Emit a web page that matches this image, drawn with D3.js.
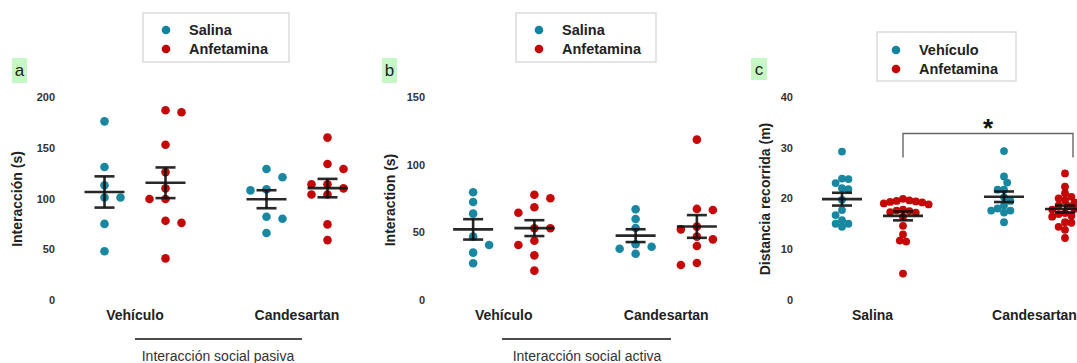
<!DOCTYPE html>
<html>
<head>
<meta charset="utf-8">
<script src="https://cdn.jsdelivr.net/npm/d3@7"></script>
<style>
  html, body { margin: 0; padding: 0; background: #fff; overflow: hidden; }
  svg { display: block; }
</style>
</head>
<body>
<svg id="chart" width="1077" height="363"></svg>
<script>
// ---- Panel a: interacción social pasiva (s) ----
const passiveCategories = ["Vehículo", "Candesartan"];
const passiveSeries = ["Salina", "Anfetamina"];
const passiveSalinaVehiculo = [176, 131, 113, 101, 101, 75, 48];
const passiveAnfetaminaVehiculo = [187, 185, 153, 126, 110, 99.5, 99.5, 78, 76, 41];
const passiveSalinaCandesartan = [129, 121, 109, 108, 82, 80, 66];
const passiveAnfetaminaCandesartan = [160, 134, 129, 114, 114, 110, 104, 104, 74.5, 59];
const passiveTicks = [0, 50, 100, 150, 200];

// ---- Panel b: interacción social activa (s) ----
const activeCategories = ["Vehículo", "Candesartan"];
const activeSeries = ["Salina", "Anfetamina"];
const activeSalinaVehiculo = [79.6, 72.4, 63.8, 46.8, 40.6, 35, 27.1];
const activeAnfetaminaVehiculo = [77.8, 75.2, 68.5, 64.5, 53, 53, 43.8, 40.6, 33, 21.7];
const activeSalinaCandesartan = [67, 59.9, 53.2, 41.2, 39.4, 37.9, 34.2];
const activeAnfetaminaCandesartan = [118.5, 67.3, 66.5, 54.2, 52.2, 46.8, 44.8, 39.9, 27.3, 25.9];
const activeTicks = [0, 50, 100, 150];

// ---- Panel c: distancia recorrida (m) ----
const distanceCategories = ["Salina", "Candesartan"];
const distanceSeries = ["Vehículo", "Anfetamina"];
const distanceVehiculoSalina = [29.2, 23.9, 23.8, 23.0, 22.0, 21.8, 19.7, 17.7, 16.7, 15.7, 15.0, 15.0, 14.4];
const distanceAnfetaminaSalina = [19.9, 19.6, 19.5, 19.4, 19.3, 19.2, 19.0, 18.8, 17.8, 17.6, 17.5, 17.3, 17.2, 16.4, 14.6, 12.9, 11.7, 11.5, 5.2];
const distanceVehiculoCandesartan = [29.3, 24.3, 23.1, 21.7, 21.7, 20.2, 19.5, 18.6, 18.0, 17.6, 17.6, 17.2, 15.3];
const distanceAnfetaminaCandesartan = [24.9, 22.3, 21.0, 20.3, 20.0, 19.6, 19.2, 18.6, 18.5, 17.9, 17.8, 17.1, 16.9, 16.6, 16.4, 15.3, 15.2, 14.4, 13.8, 12.2];
const distanceTicks = [0, 10, 20, 30, 40];

const FONT = "'Liberation Sans', Arial, Helvetica, sans-serif";
const TEAL = "#12839d";
const RED = "#c20000";
const svg = d3.select("#chart");

// mean and standard error of the mean
function meanSem(v) {
  return { mean: d3.mean(v), sem: d3.deviation(v) / Math.sqrt(v.length) };
}

// simple deterministic beeswarm: returns horizontal offsets (px) for each value
function swarm(values, y, step, minDist) {
  const order = d3.range(values.length).sort((i, j) => values[j] - values[i]);
  const placed = [];
  const out = new Array(values.length);
  let left = 0, right = 0;
  for (const i of order) {
    const py = y(values[i]);
    for (let k = 0; k < 50; k++) {
      const cands = k === 0 ? [0] : (right <= left ? [k * step, -k * step] : [-k * step, k * step]);
      const ok = cands.find(dx => placed.every(p => Math.hypot(p.dx - dx, p.y - py) >= minDist));
      if (ok !== undefined) {
        placed.push({ dx: ok, y: py });
        if (ok > 0) right++; else if (ok < 0) left++;
        out[i] = ok;
        break;
      }
    }
  }
  return out;
}

function drawPanel(cfg) {
  const g = svg.append("g");
  const y = d3.scaleLinear().domain(cfg.domain).range(cfg.yRange);
  const x0 = d3.scaleBand().domain(cfg.categories).range(cfg.xRange);
  const x1 = d3.scaleBand().domain(cfg.series).range([20, x0.bandwidth() - 20]);
  const colour = d3.scaleOrdinal().domain(cfg.series).range([TEAL, RED]);
  const cx = (c, s) => x0(c) + x1(s) + x1.bandwidth() / 2;

  // y axis: labels only
  const axis = g.append("g")
    .attr("transform", `translate(${cfg.tickX},0)`)
    .call(d3.axisLeft(y).tickValues(cfg.ticks).tickSize(0).tickPadding(0).tickFormat(d3.format("d")));
  axis.select(".domain").remove();
  axis.selectAll("text")
    .attr("font-family", FONT).attr("font-size", 11).attr("font-weight", "bold").attr("fill", "#333");

  // y axis title
  g.append("text")
    .attr("transform", `translate(${cfg.titleX},${cfg.titleY}) rotate(-90)`)
    .attr("text-anchor", "middle").attr("dy", "0.35em")
    .attr("font-family", FONT).attr("font-size", 14).attr("font-weight", "bold").attr("fill", "#222")
    .text(cfg.yTitle);

  // category labels
  g.selectAll(".cat").data(cfg.categories).join("text")
    .attr("x", c => x0(c) + x0.bandwidth() / 2).attr("y", 320)
    .attr("text-anchor", "middle")
    .attr("font-family", FONT).attr("font-size", 14).attr("font-weight", "bold").attr("fill", "#222")
    .text(c => c);

  // points
  cfg.categories.forEach(c => {
    cfg.series.forEach(s => {
      const vals = cfg.values[c][s];
      const off = swarm(vals, y, cfg.step, cfg.minDist);
      g.append("g").selectAll("circle").data(vals).join("circle")
        .attr("cx", (d, i) => cx(c, s) + off[i])
        .attr("cy", d => y(d))
        .attr("r", cfg.r)
        .attr("fill", colour(s))
        .attr("fill-opacity", 0.97);
    });
  });

  // mean ± SEM
  cfg.categories.forEach(c => {
    cfg.series.forEach(s => {
      const { mean, sem } = meanSem(cfg.values[c][s]);
      const x = cx(c, s);
      const eb = g.append("g").attr("stroke", "#111").attr("stroke-width", 2.6).attr("stroke-opacity", 0.9);
      eb.append("line").attr("x1", x - 20).attr("x2", x + 20).attr("y1", y(mean)).attr("y2", y(mean));
      eb.append("line").attr("x1", x).attr("x2", x).attr("y1", y(mean + sem)).attr("y2", y(mean - sem));
      eb.append("line").attr("x1", x - 10).attr("x2", x + 10).attr("y1", y(mean + sem)).attr("y2", y(mean + sem));
      eb.append("line").attr("x1", x - 10).attr("x2", x + 10).attr("y1", y(mean - sem)).attr("y2", y(mean - sem));
    });
  });

  // legend
  const lg = cfg.legend;
  g.append("rect").attr("x", lg.x).attr("y", lg.y).attr("width", lg.w).attr("height", lg.h)
    .attr("fill", "#fff").attr("stroke", "#dcdcdc").attr("stroke-width", 1.5);
  cfg.series.forEach((s, i) => {
    const ry = lg.y + lg.row0 + i * 19;
    g.append("circle").attr("cx", lg.x + lg.dotDx).attr("cy", ry).attr("r", 4.3).attr("fill", colour(s));
    g.append("text").attr("x", lg.x + lg.textDx).attr("y", ry).attr("dy", "0.35em")
      .attr("font-family", FONT).attr("font-size", 14.5).attr("font-weight", "bold").attr("fill", "#222")
      .text(s);
  });

  // panel letter
  const lb = cfg.letterBox;
  g.append("rect").attr("x", lb.x).attr("y", lb.y).attr("width", lb.w).attr("height", lb.h).attr("fill", "#c6f8c6");
  g.append("text").attr("x", lb.x + lb.w / 2).attr("y", lb.y + lb.h / 2).attr("dy", "0.35em")
    .attr("text-anchor", "middle").attr("font-family", FONT).attr("font-size", 17).attr("fill", "#222")
    .text(cfg.letter);

  // grouping line and caption
  if (cfg.caption) {
    const cp = cfg.caption;
    g.append("line").attr("x1", cp.x1).attr("x2", cp.x2).attr("y1", 339).attr("y2", 339)
      .attr("stroke", "#111").attr("stroke-width", 1.6);
    g.append("text").attr("x", cp.cx).attr("y", 361).attr("text-anchor", "middle")
      .attr("font-family", FONT).attr("font-size", 14).attr("fill", "#333")
      .text(cp.text);
  }
  return { y, cx };
}

drawPanel({
  categories: passiveCategories, series: passiveSeries,
  values: {
    "Vehículo": { "Salina": passiveSalinaVehiculo, "Anfetamina": passiveAnfetaminaVehiculo },
    "Candesartan": { "Salina": passiveSalinaCandesartan, "Anfetamina": passiveAnfetaminaCandesartan }
  },
  domain: [0, 200], yRange: [300, 97], ticks: passiveTicks,
  xRange: [54, 378], tickX: 55, titleX: 17, titleY: 199, yTitle: "Interacción (s)",
  step: 16, minDist: 9, r: 4.3,
  legend: { x: 143, y: 13, w: 146, h: 49, dotDx: 23, textDx: 46, row0: 17 },
  letterBox: { x: 12, y: 58, w: 15, h: 25 }, letter: "a",
  caption: { x1: 135, x2: 302, cx: 218, text: "Interacción social pasiva" }
});

drawPanel({
  categories: activeCategories, series: activeSeries,
  values: {
    "Vehículo": { "Salina": activeSalinaVehiculo, "Anfetamina": activeAnfetaminaVehiculo },
    "Candesartan": { "Salina": activeSalinaCandesartan, "Anfetamina": activeAnfetaminaCandesartan }
  },
  domain: [0, 150], yRange: [300, 97], ticks: activeTicks,
  xRange: [422.5, 747.5], tickX: 425, titleX: 390, titleY: 200, yTitle: "Interaction (s)",
  step: 16, minDist: 9, r: 4.3,
  legend: { x: 516, y: 13, w: 140, h: 49, dotDx: 23, textDx: 46, row0: 17 },
  letterBox: { x: 382, y: 58, w: 15, h: 25 }, letter: "b",
  caption: { x1: 502, x2: 671, cx: 587, text: "Interacción social activa" }
});

const pc = drawPanel({
  categories: distanceCategories, series: distanceSeries,
  values: {
    "Salina": { "Vehículo": distanceVehiculoSalina, "Anfetamina": distanceAnfetaminaSalina },
    "Candesartan": { "Vehículo": distanceVehiculoCandesartan, "Anfetamina": distanceAnfetaminaCandesartan }
  },
  domain: [0, 40], yRange: [300, 96.7], ticks: distanceTicks,
  xRange: [791.5, 1115.5], tickX: 793, titleX: 765, titleY: 199, yTitle: "Distancia recorrida (m)",
  step: 3.2, minDist: 6.2, r: 3.9,
  legend: { x: 877, y: 32, w: 139, h: 49, dotDx: 19, textDx: 42, row0: 18 },
  letterBox: { x: 751, y: 58, w: 16, h: 22 }, letter: "c",
  caption: null
});

// significance bracket between Anfetamina groups
const bx1 = pc.cx("Salina", "Anfetamina");
const bx2 = pc.cx("Candesartan", "Anfetamina") + 8;
const bracketTop = 133.5, bracketFoot = 157.5;
svg.append("path")
  .attr("d", `M${bx1},${bracketFoot}V${bracketTop}H${bx2}V${bracketFoot}`)
  .attr("fill", "none").attr("stroke", "#666").attr("stroke-width", 1.4);
svg.append("text").attr("x", (bx1 + bx2) / 2).attr("y", 137).attr("text-anchor", "middle")
  .attr("font-family", FONT).attr("font-size", 26).attr("font-weight", "bold").attr("fill", "#111")
  .text("*");
</script>
</body>
</html>
